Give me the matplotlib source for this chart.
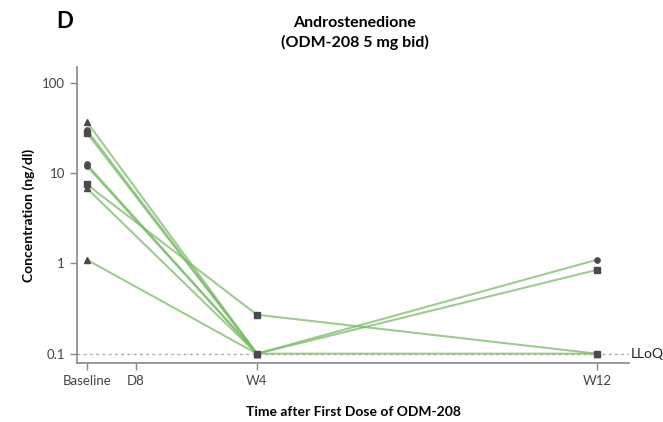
import numpy as np
import matplotlib
matplotlib.use('Agg')
import matplotlib.pyplot as plt

plt.rcParams['font.family'] = ['Lato', 'DejaVu Sans']

# time points (days after first dose)
days = [0, 28, 84]
tick_days = [0, 8, 28, 84]
tick_labels = ['Baseline', 'D8', 'W4', 'W12']

# androstenedione per subject (ng/dl), nan = no sample
subjects = [
    ('^', [37.0, 0.1, 0.1]),
    ('o', [30.0, 0.1, 1.1]),
    ('s', [28.0, 0.1, 0.85]),
    ('o', [12.5, 0.1, np.nan]),
    ('o', [12.0, 0.1, np.nan]),
    ('s', [7.5, 0.27, 0.1]),
    ('^', [6.8, 0.1, np.nan]),
    ('^', [1.1, 0.1, np.nan]),
]
lloq = 0.1

fig = plt.figure(figsize=(6.63, 4.22), dpi=100)
ax = fig.add_axes([0.116, 0.140, 0.833, 0.701])

ax.axhline(lloq, color='#aaaaaa', linestyle=(0, (2, 2.5)), linewidth=1, zorder=1)

for marker, vals in subjects:
    ax.plot(days, vals, color='#7dbb6c', alpha=0.75, linewidth=1.5, zorder=2)
    ax.plot(days, vals, linestyle='none', marker=marker, markersize=3.8,
            color='#4a4a4a', zorder=3)

ax.set_yscale('log')
ax.set_ylim(0.079, 150)
ax.set_xlim(-1.65, 89.3)
ax.set_yticks([0.1, 1, 10, 100])
ax.set_yticklabels(['0.1', '1', '10', '100'])
ax.minorticks_off()
ax.set_xticks(tick_days)
ax.set_xticklabels(tick_labels)

for s in ['top', 'right']:
    ax.spines[s].set_visible(False)
for s in ['left', 'bottom']:
    ax.spines[s].set_color('#888888')
    ax.spines[s].set_linewidth(1.2)
ax.tick_params(colors='#888888', labelcolor='#444444', labelsize=9.5, length=5, width=1)

ax.text(1.003, lloq, 'LLoQ', transform=ax.get_yaxis_transform(), va='center',
        ha='left', fontsize=10, color='#222222')

ax.set_ylabel('Concentration (ng/dl)', fontsize=10, fontweight='bold', labelpad=5)
ax.set_xlabel('Time after First Dose of ODM-208', fontsize=10, fontweight='bold', labelpad=14)

fig.text(0.535, 0.922, 'Androstenedione\n(ODM-208 5 mg bid)', ha='center', va='center',
         fontsize=11.5, fontweight='bold', linespacing=1.35)
fig.text(0.098, 0.950, 'D', ha='center', va='center', fontsize=16, fontweight='bold')

fig.savefig('out.png', dpi=100)
